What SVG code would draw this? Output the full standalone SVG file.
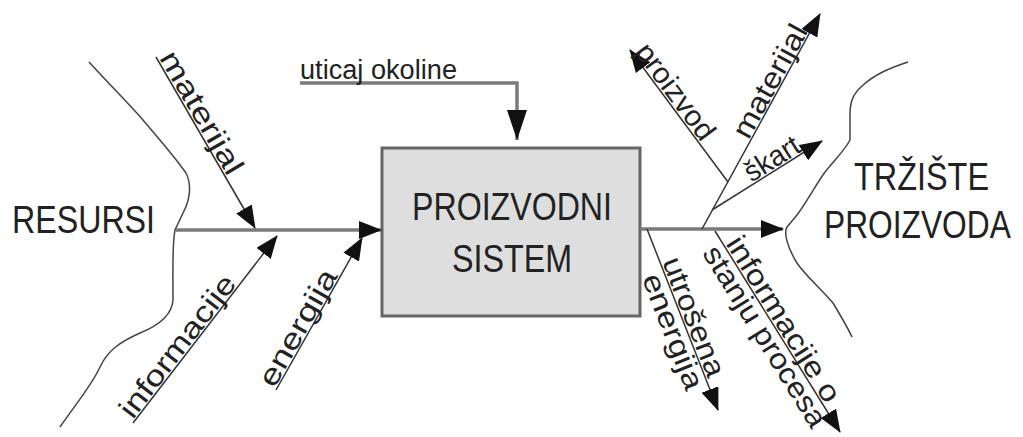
<svg xmlns="http://www.w3.org/2000/svg" width="1023" height="437" viewBox="0 0 1023 437">
<style>
text{font-family:"Liberation Sans",Arial,sans-serif;fill:#222}
.big{font-size:38px}
.lab{font-size:29px}
.thin{fill:none;stroke:#333;stroke-width:1.5}
.main{fill:none;stroke:#7a7a7a;stroke-width:3.5}
.wave{fill:none;stroke:#444;stroke-width:1.5}
</style>
<defs>
<marker id="arr" markerUnits="userSpaceOnUse" markerWidth="24" markerHeight="20" refX="22" refY="9" orient="auto">
<path d="M0,0 L23,9 L0,18 z" fill="#111"/>
</marker>
<marker id="arrL" markerUnits="userSpaceOnUse" markerWidth="32" markerHeight="22" refX="30" refY="10" orient="auto">
<path d="M0,0 L30,10 L0,20 z" fill="#111"/>
</marker>
</defs>
<rect width="1023" height="437" fill="#fff"/>
<g id="resursi">
<path class="wave" d="M89,62 C110,85 130,105 143,120 C160,140 175,157 186,173 C192,185 190,200 183,213 L175,230 C172,245 173,270 173,300 C172,315 160,325 140,333 C120,342 108,350 100,367 C92,385 75,405 60,427"/>
<text class="big" x="12" y="233" textLength="143" lengthAdjust="spacingAndGlyphs">RESURSI</text>
</g>
<g id="trziste">
<path class="wave" d="M908,62 C890,68 875,74 862,86 C852,95 850,103 850,115 L850,140 C845,150 837,157 825,172 C815,186 808,200 797,215 L787,227 C784,232 786,245 797,263 C805,275 820,288 833,303 C842,318 848,328 852,337"/>
<text class="big" x="854" y="190" textLength="135" lengthAdjust="spacingAndGlyphs">TRŽIŠTE</text>
<text class="big" transform="translate(824,238) scale(0.835,1)" x="0" y="0">PROIZVODA</text>
</g>
<g id="proizvodni_sistem">
<rect x="382" y="148" width="258" height="168" fill="#dedede" stroke="#666" stroke-width="3"/>
<text class="big" x="412" y="220" textLength="200" lengthAdjust="spacingAndGlyphs">PROIZVODNI</text>
<text class="big" x="452" y="272" textLength="120" lengthAdjust="spacingAndGlyphs">SISTEM</text>
</g>
<g id="connectors">
<path class="main" d="M176,230 H381" marker-end="url(#arr)"/>
<path class="thin" d="M156,57 L255,228" marker-end="url(#arr)"/>
<path class="thin" d="M133,423 L277,236" marker-end="url(#arr)"/>
<path class="thin" d="M276,390 L362,238" marker-end="url(#arr)"/>
<path class="main" d="M300,83 H517 V140" marker-end="url(#arrL)"/>
<path class="main" d="M640,229 H783" marker-end="url(#arr)"/>
<path class="thin" d="M702,229 L820,14" marker-end="url(#arr)"/>
<path class="thin" d="M728,182 L630,50" marker-end="url(#arr)"/>
<path class="thin" d="M712,210 L822,141" marker-end="url(#arr)"/>
<path class="thin" d="M647,229 L718,410" marker-end="url(#arr)"/>
<path class="thin" d="M715,231 L840,432" marker-end="url(#arr)"/>
</g>
<g id="labels">
<text x="300" y="79" style="font-size:27px" textLength="157" lengthAdjust="spacingAndGlyphs">uticaj okoline</text>
<g transform="translate(156,57) rotate(59.9)"><text class="lab" x="2" y="-2" textLength="138" lengthAdjust="spacingAndGlyphs">materijal</text></g>
<g transform="translate(133,423) rotate(-52.4)"><text class="lab" x="2" y="-2" textLength="172" lengthAdjust="spacingAndGlyphs">informacije</text></g>
<g transform="translate(276,390) rotate(-60.5)"><text class="lab" x="0" y="-2" textLength="130" lengthAdjust="spacingAndGlyphs">energija</text></g>
<g transform="translate(702,229) rotate(-61.2)"><text class="lab" x="100" y="-2" textLength="125" lengthAdjust="spacingAndGlyphs">materijal</text></g>
<g transform="translate(630,50) rotate(53.4)"><text class="lab" x="4" y="-2" textLength="113" lengthAdjust="spacingAndGlyphs">proizvod</text></g>
<g transform="translate(712,210) rotate(-32.1)"><text class="lab" x="48" y="-2" textLength="60" lengthAdjust="spacingAndGlyphs">škart</text></g>
<g transform="translate(647,229) rotate(68.6)"><text class="lab" x="36" y="-2" textLength="126" lengthAdjust="spacingAndGlyphs">utrošena</text><text class="lab" x="44" y="23" textLength="122" lengthAdjust="spacingAndGlyphs">energija</text></g>
<g transform="translate(715,231) rotate(58.1)"><text class="lab" x="16" y="-2" textLength="190" lengthAdjust="spacingAndGlyphs">informacije o</text><text class="lab" x="12" y="23" textLength="208" lengthAdjust="spacingAndGlyphs">stanju procesa</text></g>
</g>
</svg>
